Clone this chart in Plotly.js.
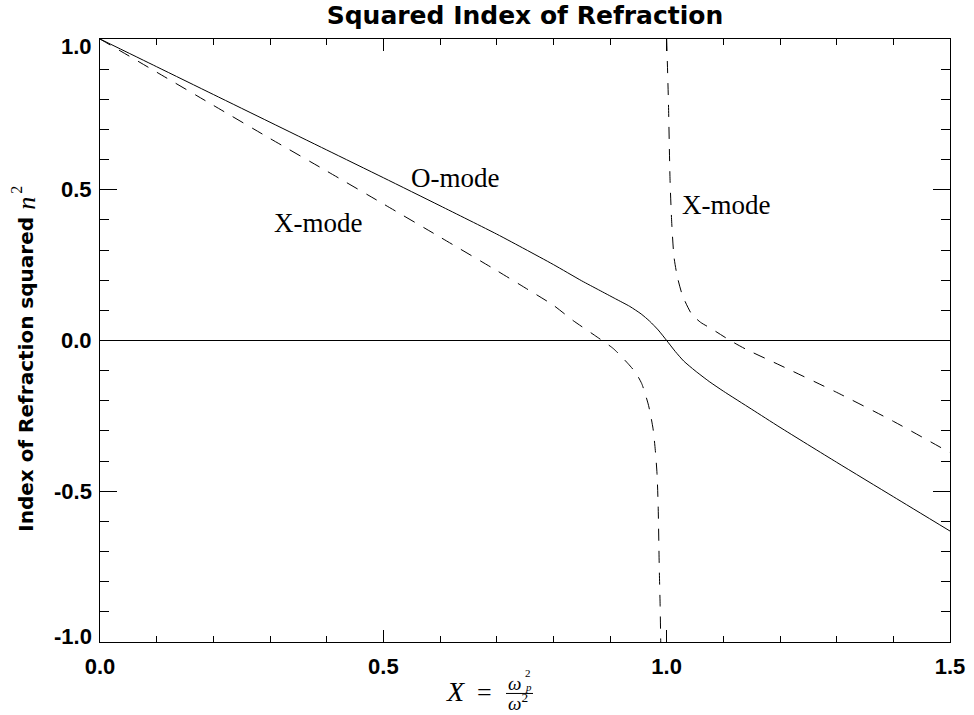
<!DOCTYPE html>
<html>
<head>
<meta charset="utf-8">
<script src="https://cdn.plot.ly/plotly-3.0.1.min.js"></script>
<style>
  html, body { margin: 0; padding: 0; background: #fff; }
  #chart { width: 974px; height: 715px; }
</style>
</head>
<body>
<div id="chart"></div>
<script>
// O-mode: squared index of refraction n^2 versus X = wp^2 / w^2
const oModeX = [0, 0.1, 0.2, 0.3, 0.4, 0.5, 0.6, 0.7, 0.75, 0.8, 0.85, 0.88, 0.91, 0.935,
                0.955, 0.97, 0.985, 1.0, 1.015, 1.03, 1.05, 1.075, 1.1, 1.15, 1.2, 1.3, 1.4, 1.5];
const oModeY = [1.0, 0.908, 0.816, 0.724, 0.632, 0.54, 0.447, 0.353, 0.303, 0.252, 0.198, 0.168, 0.138, 0.113,
                0.088, 0.064, 0.035, 0.0, -0.036, -0.068, -0.1, -0.136, -0.168, -0.228, -0.288, -0.404, -0.518, -0.632];

// X-mode, lower branch (runs into the resonance just below X = 1)
const xModeLowX = [0, 0.1, 0.2, 0.3, 0.4, 0.5, 0.6, 0.7, 0.75, 0.8, 0.835, 0.873, 0.906, 0.932,
                   0.945, 0.956, 0.968, 0.976, 0.98, 0.983, 0.985, 0.987, 0.9885, 0.9895];
const xModeLowY = [1.0, 0.89, 0.78, 0.67, 0.562, 0.453, 0.343, 0.232, 0.175, 0.117, 0.066, 0.017, -0.027, -0.077,
                   -0.106, -0.143, -0.215, -0.293, -0.365, -0.442, -0.55, -0.76, -0.88, -1.0];

// X-mode, upper branch (comes down from the resonance just above X = 1)
const xModeHighX = [1.0, 1.003, 1.006, 1.009, 1.013, 1.019, 1.028, 1.044, 1.06, 1.079, 1.112, 1.141,
                    1.2, 1.3, 1.4, 1.5];
const xModeHighY = [1.0, 0.80, 0.53, 0.388, 0.276, 0.21, 0.149, 0.088, 0.06, 0.039, 0.0, -0.03,
                    -0.082, -0.172, -0.268, -0.372];

const modeNames = ['O-mode', 'X-mode', 'X-mode'];

const xTickVals = [0, 0.5, 1.0, 1.5];
const xTickText = ['0.0', '0.5', '1.0', '1.5'];
const yTickVals = [-1.0, -0.5, 0.0, 0.5, 1.0];
const yTickText = ['-1.0', '-0.5', '0.0', '0.5', '1.0'];

const SANS = 'DejaVu Sans, Arial, sans-serif';
const HELV = 'Liberation Sans, Arial, Helvetica, sans-serif';
const SERIF = 'Liberation Serif, Times New Roman, serif';

// plot-area pixel geometry, used to place the hand-built axis titles
const W = 974, H = 715, L = 100, R = 24, T = 39, B = 72.5;
const pw = W - L - R, ph = H - T - B;
const px = v => (v - L) / pw;          // page x  -> paper x
const py = v => (H - B - v) / ph;      // page y  -> paper y

const lineStyle = { color: '#000', width: 1, shape: 'spline', smoothing: 0.6 };
const dashStyle = { color: '#000', width: 1, dash: '12px,10px', shape: 'spline', smoothing: 0.6 };

const traces = [
  { x: oModeX, y: oModeY, type: 'scatter', mode: 'lines', name: modeNames[0],
    line: lineStyle, hoverinfo: 'skip' },
  { x: xModeLowX, y: xModeLowY, type: 'scatter', mode: 'lines', name: modeNames[1],
    line: dashStyle, hoverinfo: 'skip' },
  { x: xModeHighX, y: xModeHighY, type: 'scatter', mode: 'lines', name: modeNames[2],
    line: dashStyle, hoverinfo: 'skip' }
];

const tickFont = { family: HELV, size: 22, color: '#000', weight: 'bold' };

const axisCommon = {
  showline: true, linecolor: '#000', linewidth: 1, mirror: 'ticks',
  ticks: 'inside', tickcolor: '#000', tickwidth: 1,
  showgrid: false, tickfont: tickFont
};

const labelFont = { family: SERIF, size: 27, color: '#000' };
const mathFont = size => ({ family: SERIF, size: size, color: '#000' });
const paperNote = (text, x, y, font, angle) => ({
  text: text, x: px(x), y: py(y), xref: 'paper', yref: 'paper',
  xanchor: 'center', yanchor: 'middle', showarrow: false, font: font,
  textangle: angle || 0
});

// y tick labels; the end labels sit just inside the frame
const yTickNotes = yTickVals.map((v, i) => ({
  text: yTickText[i], x: 0, y: v, xref: 'paper', yref: 'y',
  xanchor: 'right', yanchor: 'middle', xshift: -6,
  yshift: v === 1 ? -7 : (v === -1 ? 6 : 0),
  showarrow: false, font: tickFont
}));

const annotations = [
  // curve labels
  { text: modeNames[0], x: 0.6265, y: 0.5385, xref: 'x', yref: 'y', showarrow: false, font: labelFont },
  { text: modeNames[1], x: 0.3847, y: 0.389, xref: 'x', yref: 'y', showarrow: false, font: labelFont },
  { text: modeNames[2], x: 1.1047, y: 0.449, xref: 'x', yref: 'y', showarrow: false, font: labelFont },

  // y-axis title: bold words followed by the symbol n^2
  paperNote('<b>Index of Refraction squared</b>', 26, 375,
            { family: SANS, size: 20, color: '#000' }, -90),
  paperNote('<i>n</i>', 27, 204, mathFont(26), -90),
  paperNote('2', 17, 190, mathFont(16), -90),

  // x-axis title: X = wp^2 / w^2
  paperNote('<i>X</i>', 455, 692, mathFont(28)),
  paperNote('=', 484, 693, mathFont(26)),
  paperNote('<i>ω</i>', 514, 684, mathFont(19)),
  paperNote('2', 528, 674, mathFont(11)),
  paperNote('<i>p</i>', 528, 688, mathFont(11)),
  paperNote('<i>ω</i><sup>2</sup>', 518, 703, mathFont(19))
].concat(yTickNotes);

const layout = {
  width: W, height: H,
  margin: { l: L, r: R, t: T, b: B, pad: 0 },
  paper_bgcolor: '#fff', plot_bgcolor: '#fff',
  showlegend: false,
  title: {
    text: 'Squared Index of Refraction',
    font: { family: SANS, size: 25, color: '#000', weight: 'bold' },
    x: 0.5, xref: 'paper', xanchor: 'center',
    y: 1 - 15 / H, yref: 'container', yanchor: 'middle'
  },
  xaxis: Object.assign({}, axisCommon, {
    range: [0, 1.5], tickmode: 'array', tickvals: xTickVals, ticktext: xTickText,
    ticklen: 12, zeroline: false, ticklabelstandoff: 5,
    minor: { dtick: 0.1, tick0: 0, ticklen: 6, ticks: 'inside', tickcolor: '#000', tickwidth: 1, showgrid: false }
  }),
  yaxis: Object.assign({}, axisCommon, {
    range: [-1, 1], tickmode: 'array', tickvals: yTickVals, showticklabels: false,
    ticklen: 17, zeroline: true, zerolinecolor: '#000', zerolinewidth: 1,
    minor: { dtick: 0.1, tick0: 0, ticklen: 9, ticks: 'inside', tickcolor: '#000', tickwidth: 1, showgrid: false }
  }),
  annotations: annotations,
  shapes: [
    { type: 'line', xref: 'paper', yref: 'paper',
      x0: px(506), x1: px(533), y0: py(694), y1: py(694),
      line: { color: '#000', width: 1 } }
  ]
};

Plotly.newPlot('chart', traces, layout, { staticPlot: true, displayModeBar: false });
</script>
</body>
</html>
